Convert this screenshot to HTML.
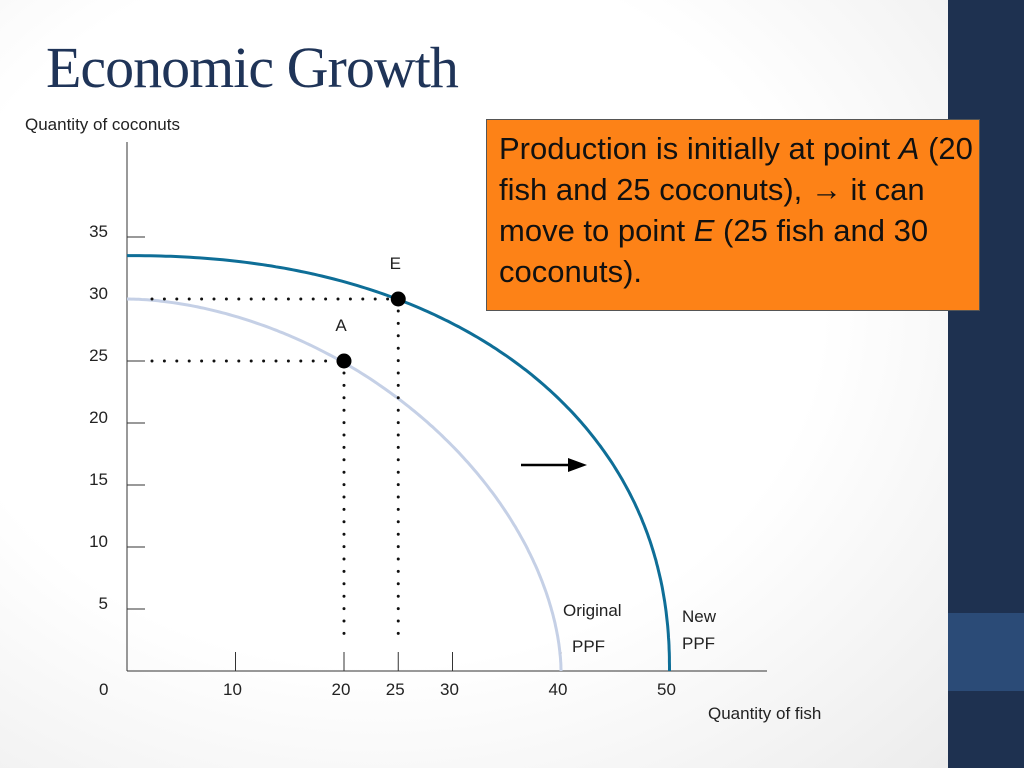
<!DOCTYPE html>
<html><head><meta charset="utf-8"><style>
body{margin:0;width:1024px;height:768px;overflow:hidden;font-family:"Liberation Sans",sans-serif;}
#bg{position:absolute;left:0;top:0;width:948px;height:768px;background:radial-gradient(ellipse at 40% 40%,#ffffff 55%,#ececec 100%);}
#side{position:absolute;left:948px;top:0;width:76px;height:768px;background:#1e3150;}
#sidebox{position:absolute;left:948px;top:613px;width:76px;height:78px;background:#2b4b77;}
#title{position:absolute;left:46px;top:34px;font-family:"Liberation Serif",serif;font-size:58px;color:#1f3458;letter-spacing:-1px;}
#note{position:absolute;left:486px;top:119px;width:480px;height:182px;padding:8px 0 0 12px;background:#fd8217;border:1px solid #555;font-size:31px;line-height:41px;color:#111;}
svg{position:absolute;left:0;top:0;}
</style></head><body>
<div id="bg"></div>
<div id="side"></div>
<div id="sidebox"></div>
<div id="title">Economic Growth</div>
<svg id="chart" width="1024" height="768"></svg>
<div id="note">Production is initially at point <i>A</i> (20 fish and 25 coconuts), &#8594; it can move to point <i>E</i> (25 fish and 30 coconuts).</div>
<script>
const xTicks=[10,20,25,30,40,50];
const yTicks=[5,10,15,20,25,30,35];
const origPPF={xMax:40,yMax:30,p:1.8};
const newPPF={xMax:50,yMax:33.5,p:2.2};
const points=[{label:"A",x:20,y:25},{label:"E",x:25,y:30}];
const svg=document.getElementById('chart');
const NS="http://www.w3.org/2000/svg";
const X=v=>127+v*10.85, Y=v=>671-v*12.4;
function mk(t,a,txt){const e=document.createElementNS(NS,t);for(const k in a)e.setAttribute(k,a[k]);if(txt!==undefined)e.textContent=txt;svg.appendChild(e);return e;}
const F='font-family:"Liberation Sans",sans-serif;font-size:17px;fill:#222';
let e;
e=mk('line',{x1:127,y1:142,x2:127,y2:671,stroke:'#333','stroke-width':1});

e=mk('line',{x1:127,y1:671,x2:767,y2:671,stroke:'#333','stroke-width':1});

e=mk('text',{x:25,y:130,style:F},'Quantity of coconuts');

e=mk('text',{x:708,y:719,style:F},'Quantity of fish');

e=mk('text',{x:99,y:695,style:F},'0');

xTicks.forEach(v=>{
 e=mk('line',{x1:X(v),y1:652,x2:X(v),y2:671,stroke:'#333'});
 
 e=mk('text',{x:X(v)-3,y:695,'text-anchor':'middle',style:F},String(v));
 
});
yTicks.forEach(v=>{
 e=mk('line',{x1:127,y1:Y(v),x2:145,y2:Y(v),stroke:'#333'});
 
 e=mk('text',{x:108,y:Y(v)-0,'text-anchor':'end',style:F},String(v));
 
});
function curve(c){let d='';for(let i=0;i<=200;i++){const t=i/200*Math.PI/2;const cx=c.xMax*Math.pow(Math.sin(t),2/c.p),cy=c.yMax*Math.pow(Math.cos(t),2/c.p);d+=(i?'L':'M')+X(cx).toFixed(1)+','+Y(cy).toFixed(1);}return d;}
e=mk('path',{d:curve(origPPF),fill:'none',stroke:'#c5d0e6','stroke-width':3});

e=mk('path',{d:curve(newPPF),fill:'none',stroke:'#0e6e97','stroke-width':3});

points.forEach(pt=>{
 e=mk('line',{x1:152,y1:Y(pt.y),x2:X(pt.x),y2:Y(pt.y),stroke:'#111','stroke-width':3,'stroke-dasharray':'0 12.4','stroke-linecap':'round'});
 
 e=mk('line',{x1:X(pt.x),y1:Y(pt.y)+12,x2:X(pt.x),y2:642,stroke:'#111','stroke-width':3,'stroke-dasharray':'0 12.4','stroke-linecap':'round'});
 
 e=mk('circle',{cx:X(pt.x),cy:Y(pt.y),r:7.5,fill:'#000'});
 
 e=mk('text',{x:X(pt.x)-3,y:Y(pt.y)-30,'text-anchor':'middle',style:F},pt.label);
 
});
e=mk('line',{x1:521,y1:465,x2:576,y2:465,stroke:'#000','stroke-width':2.5});

e=mk('path',{d:'M568,458 L587,465 L568,472 Z',fill:'#000'});

[['Original',563,616],['PPF',572,652],['New',682,622],['PPF',682,649]].forEach(l=>{
 e=mk('text',{x:l[1],y:l[2],style:F},l[0]);
 
});
</script>
</body></html>
